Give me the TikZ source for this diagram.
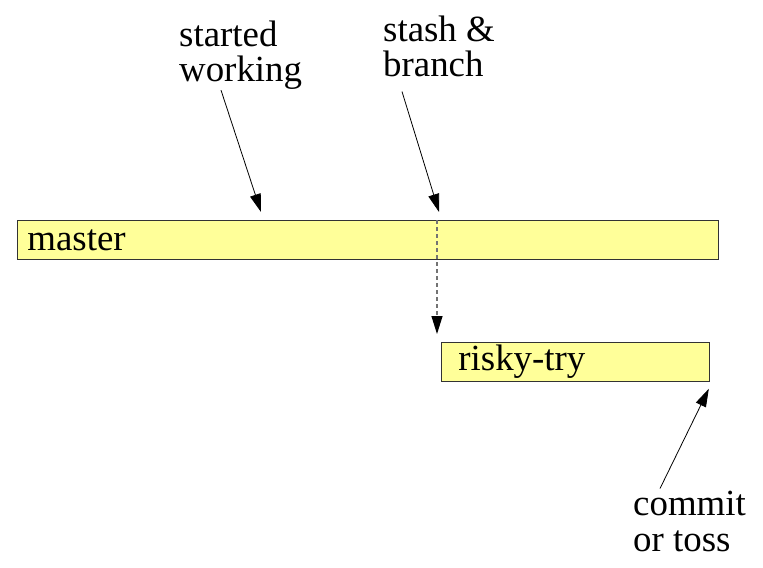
\documentclass[tikz,border=0pt]{standalone}
\usepackage{fontspec}
\setmainfont{Liberation Serif}
\usetikzlibrary{arrows.meta}
\definecolor{branchyellow}{HTML}{FFFF99}

\begin{document}
\begin{tikzpicture}[x=1bp, y=-1bp, >={Triangle[length=18bp,width=11bp]},
    bar/.style={draw=black!80, fill=branchyellow, line width=0.8bp, anchor=north west,
      minimum height=39bp, inner ysep=0pt, align=left, font=\fontsize{37}{36}\selectfont},
    note/.style={anchor=base west, align=left, inner sep=0pt, font=\fontsize{37}{36}\selectfont},
    pointer/.style={->, line width=0.8bp},
    branchline/.style={draw=black!55, dashed, dash pattern=on 4bp off 3bp, line width=1.2bp,
      -{Triangle[length=18bp,width=11bp,black]}}]
    \useasboundingbox (0,0) rectangle (763,568);

    % branches
    \node[bar, inner xsep=10bp, text width=681bp] (master) at (17,220) {master};
    \node[bar, inner xsep=17bp, text width=234bp] (risky) at (441,342) {risky-try};

    % notes (placed by the baseline of their last line)
    \node[note] (started) at (179,82) {started\\working};
    \node[note] (stash) at (383,77) {stash \&\\branch};
    \node[note] (commit) at (633,551) {commit\\or toss};

    % arrows
    \draw[pointer] ([xshift=42bp]started.south west) -- ([shift={(244bp,8bp)}]master.north west);
    \draw[pointer] ([shift={(19bp,-14bp)}]stash.south west) -- ([shift={(-2bp,8bp)}]master.north west -| risky.north west);
    \draw[branchline] ([xshift=-4bp]risky.north west |- master.north) -- ([shift={(-4bp,8bp)}]risky.north west);
    \draw[pointer] ([shift={(27bp,2bp)}]commit.north west) -- ([shift={(-1bp,-7bp)}]risky.south east);
\end{tikzpicture}
\end{document}
